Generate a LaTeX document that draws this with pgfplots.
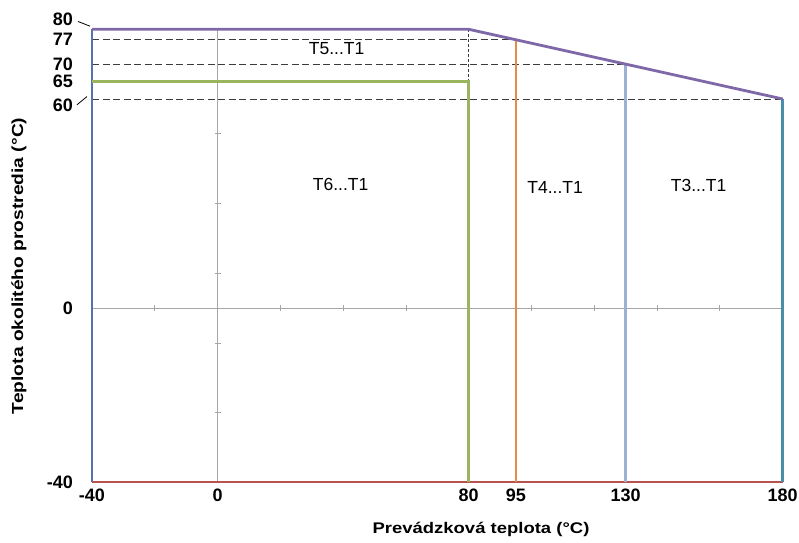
\documentclass[border=0pt]{standalone}
\usepackage{fontspec}
\setmainfont{Liberation Sans}
\usepackage{graphicx}
\usepackage{pgfplots}
\pgfplotsset{compat=1.18}
\definecolor{cTop}{HTML}{7F68A8}
\definecolor{cGreen}{HTML}{9BB45E}
\definecolor{cOrange}{HTML}{E58C4C}
\definecolor{cLBlue}{HTML}{9DB0D6}
\definecolor{cTeal}{HTML}{4A8EAA}
\definecolor{cLeft}{HTML}{5472AE}
\definecolor{cBottom}{HTML}{B8524F}
\definecolor{cZero}{HTML}{A6A6A6}
\definecolor{cDash}{HTML}{3C3C3C}
\begin{document}
\begin{tikzpicture}
\begin{axis}[
 x=3.1395bp, y=3.485bp,
 xmin=-40, xmax=180, ymin=-50, ymax=80,
 axis line style={draw=none},
 clip=false,
 xtick={-40,0,80,95,130,180},
 xticklabels={-40,0,80,95,130,180},
 ytick={-50,0,65,70,77},
 yticklabels={-40,0,65,70,77},
 major tick length=0pt,
 tick style={draw=none},
 ticklabel style={font=\fontsize{18bp}{21bp}\selectfont\bfseries, inner sep=0pt},
 yticklabel style={anchor=east, xshift=-19bp},
 xticklabel style={anchor=center, yshift=-12.5bp},
]
% zero lines
\addplot[cZero, line width=1bp] coordinates {(-40,0)(180,0)};
\addplot[cZero, line width=1.2bp] coordinates {(0,-50)(0,80)};
\addplot[only marks, mark=|, mark size=3bp, cZero, mark options={line width=0.9bp}] coordinates {(-20,0)(20,0)(40,0)(60,0)(100,0)(120,0)(140,0)(160,0)};
\addplot[only marks, mark=-, mark size=3bp, cZero, mark options={line width=0.9bp}] coordinates {(0,50)(0,30)(0,10)(0,-10)(0,-30)};
% dashed guides
\addplot[cDash, dash pattern=on 7bp off 3.5bp, line width=0.8bp] coordinates {(-40,77)(95,77)};
\addplot[cDash, dash pattern=on 7bp off 3.5bp, line width=0.8bp] coordinates {(-40,70)(130,70)};
\addplot[cDash, dash pattern=on 7bp off 3.5bp, line width=0.8bp] coordinates {(-40,60)(180,60)};
\addplot[cDash, dash pattern=on 3bp off 2bp, line width=0.7bp] coordinates {(80,65)(80,80)};
% coloured boundaries
\addplot[cLeft, line width=2bp] coordinates {(-40,-50)(-40,80)};
\addplot[cBottom, line width=2bp] coordinates {(-40,-50)(180,-50)};
\addplot[cGreen, line width=2.8bp] coordinates {(-40,65)(80,65)(80,-50)};
\addplot[cOrange, line width=2.5bp] coordinates {(95,77)(95,-50)};
\addplot[cLBlue, line width=2.5bp] coordinates {(130,70)(130,-50)};
\addplot[cTeal, line width=2.5bp] coordinates {(180,60)(180,-50)};
\addplot[cTop, line width=2.8bp] coordinates {(-40,80)(80,80)(180,60)};
% region labels
\node[inner sep=0pt, font=\fontsize{17.5bp}{20bp}\selectfont] at (axis cs:37.9,74.4) {T5...T1};
\node[inner sep=0pt, font=\fontsize{17.5bp}{20bp}\selectfont] at (axis cs:39.2,35.4) {T6...T1};
\node[inner sep=0pt, font=\fontsize{17.5bp}{20bp}\selectfont] at (axis cs:107.5,34.7) {T4...T1};
\node[inner sep=0pt, font=\fontsize{17.5bp}{20bp}\selectfont] at (axis cs:153.2,35.2) {T3...T1};
% y labels 80 and 60 with leaders
\node[anchor=east, inner sep=0pt, font=\fontsize{18bp}{21bp}\selectfont\bfseries] at (axis cs:-46.05,82.8) {80};
\node[anchor=east, inner sep=0pt, font=\fontsize{18bp}{21bp}\selectfont\bfseries] at (axis cs:-46.05,58.3) {60};
\draw[black, line width=0.8bp] (axis cs:-44.46,82.24) -- (axis cs:-40.64,80.9);
\draw[black, line width=0.8bp] (axis cs:-44.78,58.35) -- (axis cs:-41.6,60.7);
% axis titles
\node[inner sep=0pt, font=\fontsize{15.4bp}{18bp}\selectfont\bfseries] at (axis cs:83.9,-63.6) {\scalebox{1.2}[1]{Prevádzková teplota (°C)}};
\node[inner sep=0pt, rotate=90, font=\fontsize{16bp}{19bp}\selectfont\bfseries] at (axis cs:-63.25,12.1) {\scalebox{1.2}[1]{Teplota okolitého prostredia (°C)}};
\end{axis}
\pgfresetboundingbox
\path ([shift={(-92bp,-60.3bp)}]current axis.south west) rectangle ([shift={(16.3bp,29.3bp)}]current axis.north east);
\end{tikzpicture}
\end{document}
